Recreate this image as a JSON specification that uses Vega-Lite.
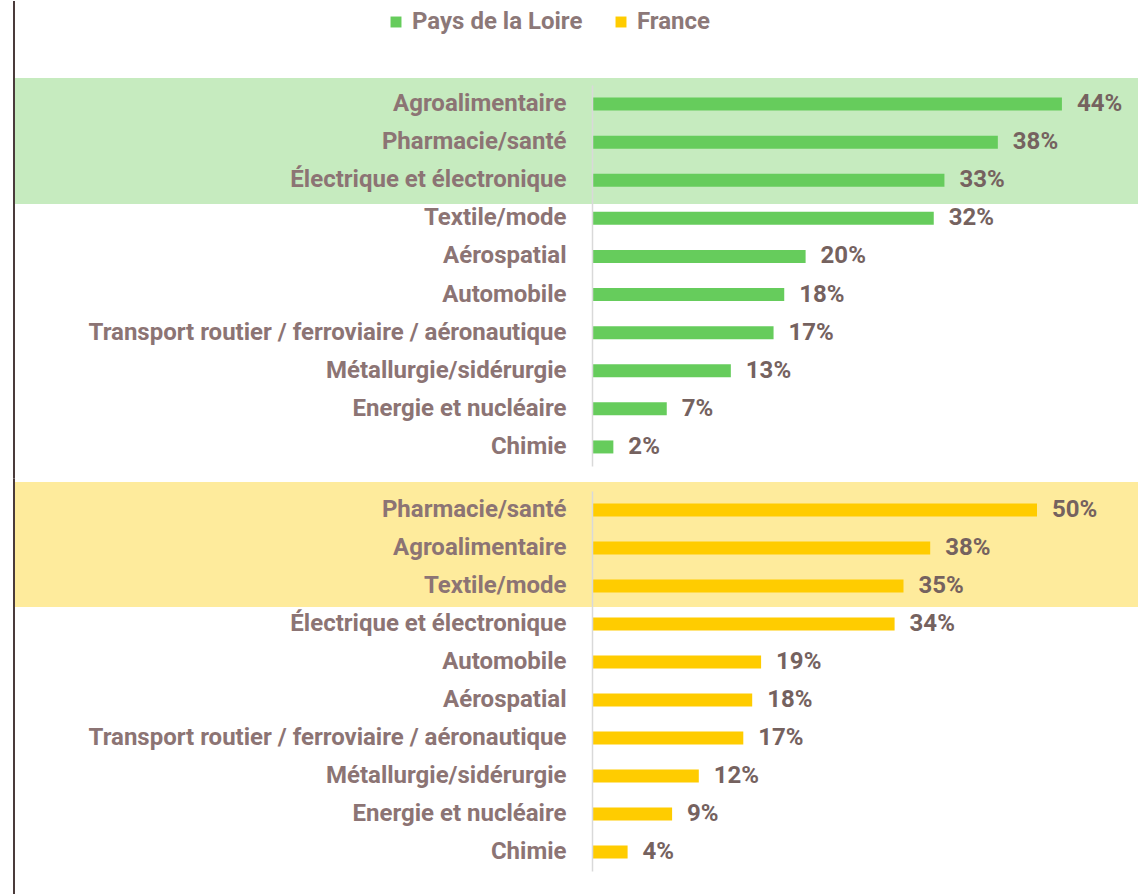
{
  "$schema": "https://vega.github.io/schema/vega-lite/v6.json",
  "padding": {"left": 12, "top": 0, "right": 0, "bottom": 0},
  "background": "white",
  "bounds": "flush",
  "spacing": 25,
  "config": {"view": {"stroke": null}, "font": "Roboto"},
  "datasets": {
    "d": [
      {"zone": "Pays de la Loire", "sector": "Agroalimentaire", "value": 0.44},
      {"zone": "Pays de la Loire", "sector": "Pharmacie/santé", "value": 0.38},
      {"zone": "Pays de la Loire", "sector": "Électrique et électronique", "value": 0.33},
      {"zone": "Pays de la Loire", "sector": "Textile/mode", "value": 0.32},
      {"zone": "Pays de la Loire", "sector": "Aérospatial", "value": 0.20},
      {"zone": "Pays de la Loire", "sector": "Automobile", "value": 0.18},
      {"zone": "Pays de la Loire", "sector": "Transport routier / ferroviaire / aéronautique", "value": 0.17},
      {"zone": "Pays de la Loire", "sector": "Métallurgie/sidérurgie", "value": 0.13},
      {"zone": "Pays de la Loire", "sector": "Energie et nucléaire", "value": 0.07},
      {"zone": "Pays de la Loire", "sector": "Chimie", "value": 0.02},
      {"zone": "France", "sector": "Pharmacie/santé", "value": 0.50},
      {"zone": "France", "sector": "Agroalimentaire", "value": 0.38},
      {"zone": "France", "sector": "Textile/mode", "value": 0.35},
      {"zone": "France", "sector": "Électrique et électronique", "value": 0.34},
      {"zone": "France", "sector": "Automobile", "value": 0.19},
      {"zone": "France", "sector": "Aérospatial", "value": 0.18},
      {"zone": "France", "sector": "Transport routier / ferroviaire / aéronautique", "value": 0.17},
      {"zone": "France", "sector": "Métallurgie/sidérurgie", "value": 0.12},
      {"zone": "France", "sector": "Energie et nucléaire", "value": 0.09},
      {"zone": "France", "sector": "Chimie", "value": 0.04}
    ]
  },
  "vconcat": [
    {
      "width": 534,
      "height": 381,
      "data": {"name": "d"},
      "transform": [{"filter": "datum.zone === 'Pays de la Loire'"}],
      "layer": [
        {
          "transform": [{"aggregate": [{"op": "count", "as": "n"}]}],
          "mark": {"type": "rect", "fill": "#c6ebbf"},
          "encoding": {
            "x": {"datum": -0.5412, "type": "quantitative", "scale": {"domain": [0, 0.5], "nice": false}, "axis": null},
            "x2": {"datum": 0.5122},
            "y": {"datum": 1.0184, "type": "quantitative", "scale": {"domain": [0, 1], "nice": false, "zero": false}, "axis": null},
            "y2": {"datum": 0.6877}
          }
        },
        {
          "encoding": {
            "y": {"field": "sector", "type": "nominal", "sort": "-x", "scale": {"paddingInner": 0, "paddingOuter": 0},
              "axis": {"title": null, "ticks": false, "domain": true, "domainColor": "#d9d9d9", "domainWidth": 1.5, "labelPadding": 26, "labelFontSize": 24, "labelFont": "Roboto", "labelFontWeight": "bold", "labelColor": "#8c7474", "labelLimit": 700, "zindex": 1}},
            "x": {"field": "value", "type": "quantitative", "scale": {"domain": [0, 0.5], "nice": false}, "axis": null}
          },
          "layer": [
            {
              "mark": {"type": "bar", "size": 13},
              "encoding": {
                "color": {"field": "zone", "type": "nominal", "scale": {"domain": ["Pays de la Loire", "France"], "range": ["#66cc5c", "#ffcc00"]},
                  "legend": {"orient": "none", "legendX": -208, "legendY": -75, "direction": "horizontal", "title": null, "symbolType": "square", "symbolSize": 120, "symbolStrokeWidth": 0, "labelFontSize": 24, "labelFont": "Roboto", "labelFontWeight": "bold", "labelColor": "#8c7878", "labelLimit": 400, "columnPadding": 26}}
              }
            },
            {
              "mark": {"type": "text", "align": "left", "baseline": "middle", "dx": 15, "fontSize": 24, "font": "Roboto", "fontWeight": "bold", "color": "#75625f"},
              "encoding": {"text": {"field": "value", "type": "quantitative", "format": ".0%"}}
            }
          ]
        },
        {
          "transform": [{"aggregate": [{"op": "count", "as": "n"}]}],
          "mark": {"type": "rule", "color": "#4a3b3b", "strokeWidth": 2},
          "encoding": {
            "x": {"datum": -0.5412, "type": "quantitative", "scale": {"domain": [0, 0.5], "nice": false}, "axis": null},
            "y": {"datum": 1.22047, "type": "quantitative", "scale": {"domain": [0, 1], "nice": false, "zero": false}, "axis": null},
            "y2": {"datum": -0.0328}
          }
        }
      ],
      "resolve": {"scale": {"y": "independent"}, "axis": {"y": "independent"}}
    },
    {
      "width": 534,
      "height": 380,
      "data": {"name": "d"},
      "transform": [{"filter": "datum.zone === 'France'"}],
      "layer": [
        {
          "transform": [{"aggregate": [{"op": "count", "as": "n"}]}],
          "mark": {"type": "rect", "fill": "#feeb9c"},
          "encoding": {
            "x": {"datum": -0.64944, "type": "quantitative", "scale": {"domain": [0, 0.6], "nice": false}, "axis": null},
            "x2": {"datum": 0.61461},
            "y": {"datum": 1.02368, "type": "quantitative", "scale": {"domain": [0, 1], "nice": false, "zero": false}, "axis": null},
            "y2": {"datum": 0.69474}
          }
        },
        {
          "encoding": {
            "y": {"field": "sector", "type": "nominal", "sort": "-x", "scale": {"paddingInner": 0, "paddingOuter": 0},
              "axis": {"title": null, "ticks": false, "domain": true, "domainColor": "#d9d9d9", "domainWidth": 1.5, "labelPadding": 26, "labelFontSize": 24, "labelFont": "Roboto", "labelFontWeight": "bold", "labelColor": "#8c7474", "labelLimit": 700, "zindex": 1}},
            "x": {"field": "value", "type": "quantitative", "scale": {"domain": [0, 0.6], "nice": false}, "axis": null}
          },
          "layer": [
            {
              "mark": {"type": "bar", "size": 13},
              "encoding": {
                "color": {"field": "zone", "type": "nominal", "scale": {"domain": ["Pays de la Loire", "France"], "range": ["#66cc5c", "#ffcc00"]},
                  "legend": {"orient": "none", "legendX": -208, "legendY": -75, "direction": "horizontal", "title": null, "symbolType": "square", "symbolSize": 120, "symbolStrokeWidth": 0, "labelFontSize": 24, "labelFont": "Roboto", "labelFontWeight": "bold", "labelColor": "#8c7878", "labelLimit": 400, "columnPadding": 26}}
              }
            },
            {
              "mark": {"type": "text", "align": "left", "baseline": "middle", "dx": 15, "fontSize": 24, "font": "Roboto", "fontWeight": "bold", "color": "#75625f"},
              "encoding": {"text": {"field": "value", "type": "quantitative", "format": ".0%"}}
            }
          ]
        },
        {
          "transform": [{"aggregate": [{"op": "count", "as": "n"}]}],
          "mark": {"type": "rule", "color": "#4a3b3b", "strokeWidth": 2},
          "encoding": {
            "x": {"datum": -0.64944, "type": "quantitative", "scale": {"domain": [0, 0.6], "nice": false}, "axis": null},
            "y": {"datum": 1.03289, "type": "quantitative", "scale": {"domain": [0, 1], "nice": false, "zero": false}, "axis": null},
            "y2": {"datum": -0.06316}
          }
        }
      ],
      "resolve": {"scale": {"y": "independent"}, "axis": {"y": "independent"}}
    }
  ],
  "resolve": {"scale": {"color": "shared"}, "legend": {"color": "shared"}}
}
